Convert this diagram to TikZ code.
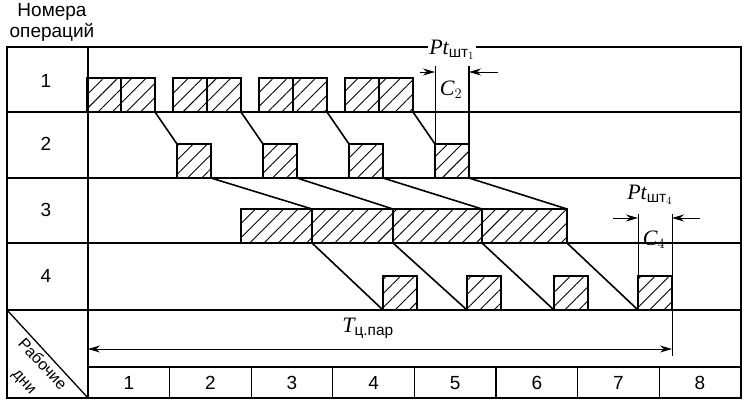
\documentclass[tikz,border=0pt]{standalone}
\usepackage{amsmath}
\usepackage{fontspec}
\setmainfont{Liberation Sans}
\newfontfamily\timesfont{Liberation Serif}
\usetikzlibrary{arrows.meta,patterns.meta}

\newcommand{\lit}[1]{\text{\timesfont\itshape #1}}

\begin{document}
\begin{tikzpicture}[x=1pt,y=-1pt,font=\fontsize{19}{21}\selectfont,
  tabline/.style={line width=1.3pt},
  bar/.style={draw,line width=1.8pt,pattern={Lines[angle=45,distance=10pt,line width=.9pt]},
    minimum height=34,inner sep=0pt,outer sep=0pt,anchor=south west},
  link/.style={line width=1.6pt},
  dimline/.style={line width=1pt},
  dimarr/.style={dimline,-{Stealth[length=12pt,width=7pt]}},
  lbl/.style={font=\fontsize{22}{24}\selectfont,inner sep=1pt}]
  \useasboundingbox (0,0) rectangle (750,408);
  % table
  \draw[tabline] (7,47) rectangle (741,398);
  \draw[tabline] (88,47) -- (88,398);
  \foreach \y in {112,178,243,310} \draw[tabline] (7,\y) -- (741,\y);
  \draw[tabline] (88,367) -- (741,367);
  \draw[tabline] (7,310) -- (88,398);
  \foreach \d in {1,...,7} \draw[tabline] ({88+81.6*\d},367) -- ({88+81.6*\d},398);
  \foreach \d in {1,...,8} \node (day\d) at ({88+81.6*\d-40.8},383) {\d};
  \foreach \n/\y in {1/81,2/144,3/210,4/276} \node (op\n) at (46,\y) {\n};
  \node[align=center] (head) at (52,22) {Номера\\операций};
  \node[rotate=-47,font=\fontsize{16}{18}\selectfont,inner sep=0pt] (days1) at (43,364) {Рабочие};
  \node[rotate=-47,font=\fontsize{16}{18}\selectfont,inner sep=0pt] (days2) at (23,383) {дни};
  % operations
  \foreach \k/\x in {1/87,2/173,3/259,4/345} {
    \node[bar,minimum width=34] (o1s\k) at (\x,112) {};
    \node[bar,minimum width=34] (o1e\k) at (\x+34,112) {};
  }
  \foreach \k/\x in {1/177,2/263,3/349,4/435} \node[bar,minimum width=34] (o2\k) at (\x,178) {};
  \foreach \k/\x/\w in {1/241/71,2/312/81,3/393/89,4/482/85} \node[bar,minimum width=\w] (o3\k) at (\x,243) {};
  \foreach \k/\x in {1/383,2/467,3/554,4/638} \node[bar,minimum width=34] (o4\k) at (\x,310) {};
  \foreach \k in {1,...,4} {
    \draw[link] (o1e\k.south east) -- (o2\k.north west);
    \draw[link] (o2\k.south east) -- (o3\k.north east);
    \draw[link] (o3\k.south east) -- (o4\k.south west);
  }
  % C2
  \coordinate (c2top) at (452,66);
  \coordinate (c2a) at (420,72);
  \coordinate (c2b) at (498,72);
  \draw[dimline] (o24.north west) -- (o24.north west |- c2top);
  \draw[dimline,line width=1.4pt] (o24.south east) -- (o24.south east |- c2top);
  \draw[dimarr] (c2a) -- (c2a -| o24.west);
  \draw[dimarr] (c2b) -- (c2b -| o24.east);
  \node[lbl,fill=white] (pt1) at (452,50) {$\lit{Pt}_{\text{шт}_1}$};
  \node[lbl] (c2) at (451,90) {$\lit{C}_2$};
  % C4
  \coordinate (c4top) at (655,214);
  \coordinate (c4a) at (613,218);
  \coordinate (c4b) at (700,218);
  \draw[dimline] (o44.north west) -- (o44.north west |- c4top);
  \draw[dimline] (o44.south east |- c4top) -- (o44.south east |- 0,356);
  \draw[dimarr] (c4a) -- (c4a -| o44.west);
  \draw[dimarr] (c4b) -- (c4b -| o44.east);
  \node[lbl] (pt4) at (650,195) {$\lit{Pt}_{\text{шт}_4}$};
  \node[lbl] (c4) at (654,240) {$\lit{C}_4$};
  % cycle time
  \coordinate (tl) at (88,349);
  \draw[dimline,{Stealth[length=12pt,width=7pt]}-{Stealth[length=12pt,width=7pt]}] (tl) -- (tl -| o44.east);
  \node[lbl] (tc) at (368,328) {$\lit{T}_{\text{ц.пар}}$};
\end{tikzpicture}
\end{document}
